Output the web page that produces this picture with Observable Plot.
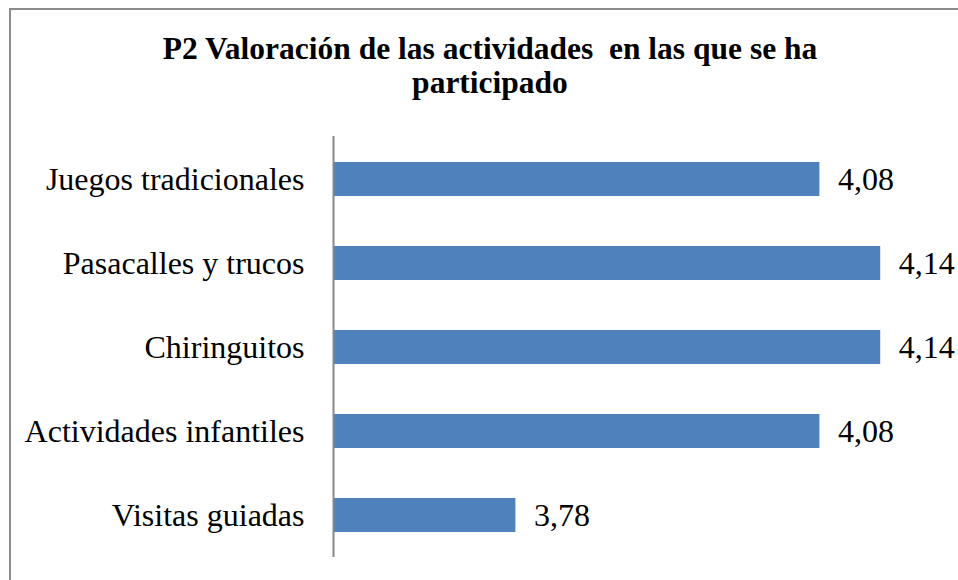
<!DOCTYPE html>
<html>
<head>
<meta charset="utf-8">
<script src="https://cdn.jsdelivr.net/npm/d3@7"></script>
<script src="https://cdn.jsdelivr.net/npm/@observablehq/plot@0.6"></script>
<style>
  html, body { margin: 0; padding: 0; background: #fff; width: 958px; height: 580px; overflow: hidden; }
  #frame { position: absolute; left: 9px; top: 8px; width: 1000px; height: 620px; border: 2px solid #8c8c8c; box-sizing: border-box; }
  #title { position: absolute; left: 0; top: 32px; width: 980px; text-align: center; font-family: "Liberation Serif", "Times New Roman", serif; font-weight: bold; font-size: 31.5px; line-height: 34px; color: #000; white-space: pre; }
  #chart { position: absolute; left: 0; top: 0; }
</style>
</head>
<body>
<div id="frame"></div>
<div id="title">P2 Valoración de las actividades  en las que se ha
participado</div>
<div id="chart"></div>
<script>
const categories = ["Juegos tradicionales", "Pasacalles y trucos", "Chiringuitos", "Actividades infantiles", "Visitas guiadas"];
const values = [4.08, 4.14, 4.14, 4.08, 3.78];
const xDomain = [3.6, 4.2];

const data = categories.map((name, i) => ({name, value: values[i]}));
const fmt = v => v.toFixed(2).replace(".", ",");
const serif = "'Liberation Serif', 'Times New Roman', serif";

const chart = Plot.plot({
  width: 958,
  height: 580,
  marginLeft: 333,
  marginRight: 17,
  marginTop: 136,
  marginBottom: 23,
  style: {fontFamily: serif, fontSize: "32px", color: "#000", background: "transparent"},
  x: {domain: xDomain, axis: null},
  y: {domain: categories, paddingInner: 0.6, paddingOuter: 0.3, label: null},
  marks: [
    Plot.barX(data, {x1: xDomain[0], x2: "value", y: "name", fill: "#4F81BD"}),
    Plot.ruleX([xDomain[0]], {stroke: "#888", strokeWidth: 2}),
    Plot.axisY({tickSize: 0, tickPadding: 29, fontSize: 32, fontFamily: serif, label: null, fill: "#000"}),
    Plot.text(data, {x: "value", y: "name", text: d => fmt(d.value), dx: 18, textAnchor: "start", fontSize: 32, fontFamily: serif, fill: "#000"})
  ]
});
document.getElementById("chart").append(chart);
</script>
</body>
</html>
